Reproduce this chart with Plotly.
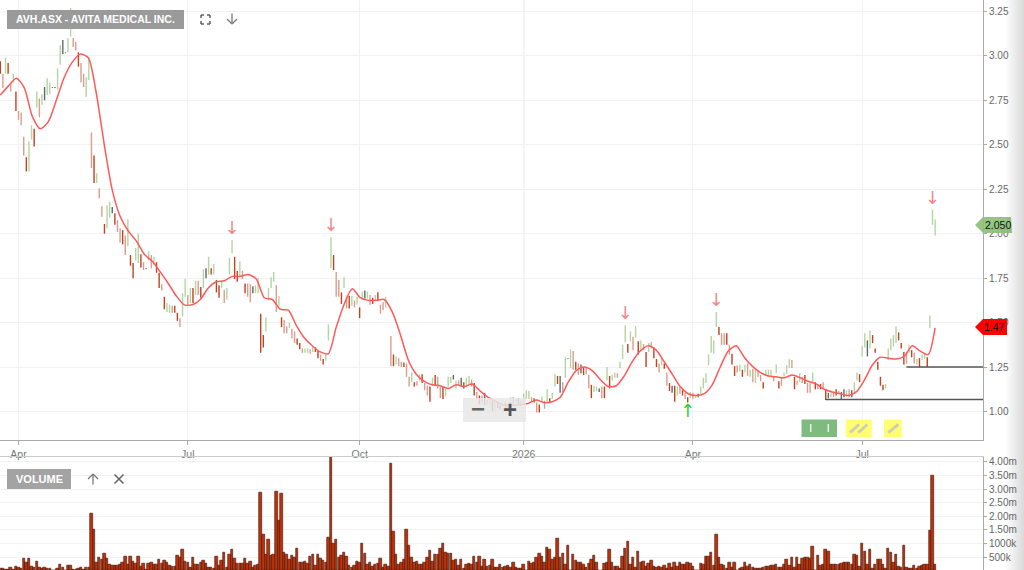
import plotly.graph_objects as go

W, H = 1024, 570

# one bar per trading day, oldest first (prices in AUD, volume in thousands)
highs = [
    2.97, 2.90, 2.99, 2.96, 2.85, 2.90, 2.80, 2.69, 2.68, 2.545,
    2.43, 2.52, 2.61, 2.59, 2.80, 2.76, 2.785, 2.825, 2.875, 2.85,
    2.825, 2.825, 2.93, 3.06, 3.09, 3.02, 3.10, 3.27, 3.10, 3.08,
    3.02, 2.96, 2.90, 2.88, 2.99, 2.57, 2.44, 2.34, 2.255, 2.155,
    2.055, 2.16, 2.18, 2.15, 2.115, 2.075, 2.03, 2.02, 1.99, 2.08,
    1.88, 1.835, 1.92, 2.00, 1.885, 1.84, 1.805, 1.90, 1.88, 1.87,
    1.84, 1.78, 1.715, 1.645, 1.61, 1.60, 1.595, 1.595, 1.555, 1.525,
    1.665, 1.745, 1.655, 1.695, 1.695, 1.735, 1.735, 1.70, 1.80, 1.805,
    1.87, 1.805, 1.83, 1.74, 1.71, 1.735, 1.685, 1.695, 1.865, 1.965,
    1.87, 1.79, 1.845, 1.79, 1.72, 1.72, 1.715, 1.705, 1.71, 1.75,
    1.55, 1.43, 1.53, 1.695, 1.755, 1.785, 1.71, 1.65, 1.53, 1.515,
    1.48, 1.50, 1.465, 1.45, 1.41, 1.385, 1.355, 1.355, 1.355, 1.35,
    1.365, 1.36, 1.34, 1.32, 1.295, 1.32, 1.49, 1.98, 1.88, 1.785,
    1.74, 1.67, 1.755, 1.645, 1.65, 1.65, 1.625, 1.645, 1.585, 1.675,
    1.68, 1.675, 1.655, 1.64, 1.655, 1.67, 1.60, 1.615, 1.645, None,
    1.425, 1.32, 1.31, 1.30, 1.28, 1.275, 1.27, 1.195, 1.22, 1.165,
    1.17, 1.21, 1.21, 1.16, 1.145, 1.14, 1.19, 1.205, 1.195, 1.14,
    1.14, 1.13, 1.195, 1.195, 1.205, 1.175, 1.175, 1.19, 1.165, 1.19,
    1.20, 1.18, 1.16, 1.11, 1.09, 1.09, 1.105, 1.065, 1.08, 1.06,
    1.05, 1.05, 1.035, 1.02, 1.055, 1.05, 1.08, 1.08, 1.075, 1.075,
    1.06, 1.10, 1.12, 1.115, 1.08, 1.075, 1.05, 1.04, 1.085, 1.06,
    1.125, 1.075, 1.105, 1.21, 1.20, 1.20, 1.165, 1.305, 1.30, 1.35,
    1.34, 1.28, 1.27, 1.265, 1.25, 1.25, 1.205, 1.15, 1.145, 1.14,
    1.13, 1.14, 1.14, 1.25, 1.20, 1.205, 1.22, 1.215, 1.28, 1.375,
    1.485, 1.38, 1.45, 1.42, 1.48, 1.395, 1.40, 1.38, 1.335, 1.385,
    1.39, 1.36, 1.295, 1.27, 1.305, 1.27, 1.22, 1.16, 1.145, 1.145,
    1.14, 1.14, 1.12, 1.105, 1.08, 1.11, 1.105, 1.09, 1.10, 1.14,
    1.19, 1.215, 1.32, 1.425, 1.40, 1.56, 1.475, 1.44, 1.44, 1.44,
    1.375, 1.325, 1.255, 1.26, 1.265, 1.235, 1.265, 1.27, 1.235, 1.24,
    1.235, 1.23, 1.205, 1.165, 1.235, 1.235, 1.235, 1.20, 1.265, 1.17,
    1.195, 1.22, 1.26, 1.295, 1.29, 1.195, 1.175, 1.215, 1.195, 1.205,
    1.16, 1.16, 1.22, 1.165, 1.155, 1.155, 1.165, 1.125, 1.105, 1.105,
    1.105, 1.125, 1.115, 1.11, 1.125, 1.12, 1.125, 1.12, 1.165, 1.22,
    1.21, 1.37, 1.44, 1.40, 1.455, 1.43, 1.355, 1.28, 1.195, 1.15,
    1.155, 1.355, 1.41, 1.43, 1.48, 1.445, 1.385, 1.335, 1.33, 1.375,
    1.345, 1.33, 1.295, 1.30, 1.32, 1.33, 1.305, 1.54, 2.135, 2.08,
]
lows = [
    2.90, 2.82, 2.90, 2.90, 2.80, 2.85, 2.69, 2.64, 2.61, 2.44,
    2.35, 2.35, 2.53, 2.49, 2.71, 2.655, 2.725, 2.75, 2.78, 2.785,
    2.82, 2.82, 2.81, 2.95, 3.01, 3.015, 3.02, 3.11, 3.05, 3.03,
    2.94, 2.85, 2.825, 2.77, 2.865, 2.37, 2.285, 2.285, 2.20, 2.095,
    2.00, 2.03, 2.09, 2.115, 2.05, 2.01, 1.95, 1.94, 1.88, 1.93,
    1.82, 1.75, 1.85, 1.835, 1.81, 1.795, 1.80, 1.85, 1.805, 1.825,
    1.78, 1.695, 1.68, 1.575, 1.56, 1.555, 1.555, 1.555, 1.51, 1.475,
    1.535, 1.645, 1.595, 1.61, 1.61, 1.655, 1.655, 1.64, 1.695, 1.75,
    1.77, 1.77, 1.77, 1.67, 1.64, 1.695, 1.61, 1.63, 1.77, 1.89,
    1.745, 1.73, 1.76, 1.745, 1.665, 1.645, 1.615, 1.665, 1.665, 1.665,
    1.33, 1.36, 1.45, 1.625, 1.695, 1.73, 1.56, 1.595, 1.475, 1.44,
    1.44, 1.47, 1.41, 1.385, 1.375, 1.35, 1.33, 1.33, 1.33, 1.325,
    1.335, 1.335, 1.30, 1.285, 1.265, 1.285, 1.40, 1.805, 1.795, 1.645,
    1.645, 1.605, 1.695, 1.58, 1.58, 1.595, 1.585, 1.60, 1.525, 1.63,
    1.635, 1.635, 1.60, 1.605, 1.625, 1.625, 1.55, 1.57, 1.585, None,
    1.255, 1.255, 1.265, 1.255, 1.25, 1.25, 1.195, 1.14, 1.165, 1.14,
    1.145, 1.17, 1.16, 1.12, 1.09, 1.055, 1.145, 1.145, 1.13, 1.075,
    1.07, 1.085, 1.14, 1.16, 1.18, 1.13, 1.15, 1.14, 1.13, 1.14,
    1.155, 1.14, 1.09, 1.07, 1.04, 1.05, 1.035, 1.04, 1.035, 1.00,
    1.00, 1.02, 1.01, 0.99, 1.00, 1.01, 1.035, 1.035, 1.05, 1.045,
    1.03, 1.04, 1.07, 1.07, 1.055, 1.05, 0.995, 0.995, 1.05, 1.015,
    1.05, 1.05, 1.07, 1.14, 1.155, 1.105, 1.11, 1.19, 1.295, 1.245,
    1.235, 1.235, 1.205, 1.215, 1.205, 1.21, 1.13, 1.075, 1.11, 1.115,
    1.11, 1.075, 1.075, 1.175, 1.13, 1.175, 1.19, 1.19, 1.245, 1.295,
    1.39, 1.33, 1.395, 1.345, 1.415, 1.32, 1.345, 1.345, 1.25, 1.335,
    1.355, 1.30, 1.25, 1.22, 1.26, 1.24, 1.145, 1.115, 1.105, 1.055,
    1.09, 1.10, 1.09, 1.07, 1.05, 1.075, 1.07, 1.075, 1.08, 1.10,
    1.13, 1.16, 1.26, 1.33, 1.325, 1.475, 1.43, 1.375, 1.375, 1.375,
    1.32, 1.265, 1.20, 1.22, 1.225, 1.195, 1.22, 1.20, 1.195, 1.165,
    1.16, 1.195, 1.17, 1.13, 1.20, 1.20, 1.20, 1.17, 1.215, 1.13,
    1.145, 1.195, 1.21, 1.245, 1.245, 1.125, 1.15, 1.165, 1.16, 1.155,
    1.105, 1.105, 1.165, 1.125, 1.125, 1.125, 1.13, 1.065, 1.075, 1.08,
    1.08, 1.09, 1.10, 1.065, 1.08, 1.08, 1.08, 1.08, 1.11, 1.175,
    1.165, 1.31, 1.36, 1.31, 1.355, 1.385, 1.33, 1.235, 1.145, 1.12,
    1.13, 1.29, 1.345, 1.365, 1.385, 1.40, 1.355, 1.265, 1.27, 1.33,
    1.305, 1.27, 1.265, 1.25, 1.29, 1.295, 1.25, 1.47, 2.05, 1.99,
]
# r = down strong, p = down pale, g = up pale, k = flat/grey
bar_kinds = "".join([
    "rpgrpgrppp", "rggrgpgkgg", "kkggkkggpp", "rppggprgpp", "rggkrpprpg", "rrggrpkgpg",
    "rrprggprrp", "ggpgrgprgk", "grgrrgpggg", "rrgprppkgg", "rrggggpgrp", "pgpprrpggp",
    "grrprgggrp", "prgprgpgrg", "kgprgrppgg", "prgpprppgr", "pgrpprgrpp", "rgggkgpkrg",
    "gprprpkpgr", "gkrgpggpgk", "ggggprprgp", "grggrkpgkg", "prpkrpprgg", "kprgrggpgg",
    "grgpgrgprg", "prrpgrprkr", "gprprgpgkg", "ggggggrppr", "prrpgrgpgp", "gpprgggpgr",
    "pgggprpgpr", "ppgrprprkg", "prpkkgpkgg", "rggkgrrrrr", "gggggrrrpg", "rpgrggrggg",
])

volumes = [
    60, 60, 40, 40, 100, 40, 150, 100, 90, 450,
    300, 430, 150, 100, 330, 100, 60, 100, 60, 60,
    15, 15, 60, 220, 100, 10, 200, 170, 50, 40,
    60, 120, 50, 100, 100, 2100, 1500, 300, 470, 390,
    640, 430, 220, 170, 180, 190, 240, 300, 510, 220,
    510, 340, 270, 510, 150, 250, 50, 270, 310, 220,
    220, 390, 270, 370, 310, 180, 150, 150, 560, 490,
    760, 340, 310, 120, 470, 220, 220, 310, 370, 270,
    120, 100, 60, 510, 180, 370, 670, 120, 610, 760,
    440, 270, 270, 270, 430, 270, 340, 120, 180, 220,
    2880, 1310, 610, 1160, 550, 590, 2920, 1860, 2850, 650,
    610, 390, 550, 470, 800, 310, 310, 340, 270, 510,
    610, 180, 590, 430, 370, 310, 1200, 4400, 980, 1160,
    490, 550, 670, 510, 180, 120, 180, 340, 310, 980,
    640, 220, 310, 150, 220, 270, 430, 120, 220, 150,
    3950, 1450, 590, 220, 310, 390, 1500, 940, 470, 310,
    340, 220, 240, 310, 490, 740, 340, 610, 610, 800,
    980, 670, 640, 640, 370, 390, 180, 390, 60, 220,
    270, 220, 510, 310, 510, 150, 390, 150, 180, 390,
    100, 100, 240, 100, 150, 180, 100, 280, 120, 60,
    60, 220, 20, 340, 270, 310, 470, 640, 510, 310,
    860, 760, 390, 470, 1190, 470, 640, 220, 940, 10,
    590, 370, 280, 280, 220, 120, 270, 390, 550, 290,
    20, 20, 270, 310, 760, 310, 150, 150, 60, 510,
    800, 1070, 220, 490, 100, 710, 310, 330, 150, 270,
    370, 150, 120, 150, 100, 180, 60, 270, 100, 310,
    150, 310, 220, 220, 310, 270, 150, 10, 10, 270,
    220, 510, 510, 670, 180, 1310, 470, 220, 180, 60,
    310, 120, 310, 20, 60, 100, 310, 150, 240, 120,
    60, 80, 80, 120, 150, 150, 180, 180, 220, 120,
    120, 220, 390, 200, 490, 100, 490, 240, 430, 470,
    470, 430, 880, 20, 570, 180, 240, 760, 710, 240,
    220, 240, 240, 270, 290, 310, 310, 220, 590, 550,
    150, 1000, 700, 220, 770, 60, 220, 390, 390, 240,
    60, 810, 670, 310, 590, 150, 100, 910, 120, 80,
    60, 180, 60, 150, 180, 220, 240, 1470, 3490, 220,
]

# moving average, read roughly every third bar
ma_values = [
    2.78, 2.83, 2.875, 2.82, 2.66, 2.59, 2.63, 2.75, 2.88, 2.965,
    3.01, 2.99, 2.79, 2.50, 2.245, 2.095, 2.015, 1.96, 1.885, 1.845,
    1.785, 1.72, 1.65, 1.60, 1.60, 1.63, 1.695, 1.73, 1.735, 1.76,
    1.76, 1.77, 1.745, 1.64, 1.63, 1.575, 1.57, 1.485, 1.415, 1.37,
    1.335, 1.325, 1.475, 1.605, 1.69, 1.64, 1.625, 1.625, 1.63, 1.56,
    1.435, 1.29, 1.21, 1.17, 1.15, 1.145, 1.13, 1.15, 1.14, 1.155,
    1.115, 1.08, 1.055, 1.035, 1.035, 1.04, 1.045, 1.065, 1.05, 1.055,
    1.08, 1.165, 1.23, 1.25, 1.23, 1.18, 1.14, 1.145, 1.20, 1.28,
    1.34, 1.37, 1.345, 1.28, 1.21, 1.14, 1.10, 1.09, 1.10, 1.15,
    1.25, 1.34, 1.37, 1.305, 1.255, 1.22, 1.20, 1.195, 1.19, 1.205,
    1.19, 1.17, 1.155, 1.125, 1.11, 1.10, 1.09, 1.11, 1.175, 1.26,
    1.305, 1.30, 1.295, 1.31, 1.37, 1.34, 1.32, 1.47,
]
ma_bars = [k * 3.072 for k in range(len(ma_values) - 1)] + [359]

price_ticks = [1.00, 1.25, 1.50, 1.75, 2.00, 2.25, 2.50, 2.75, 3.00, 3.25]
price_labels = ["1.00", "1.25", "1.50", "1.75", "2.00", "2.25", "2.50", "2.75", "3.00", "3.25"]
vol_ticks = [500, 1000, 1500, 2000, 2500, 3000, 3500, 4000]
vol_labels = ["500k", "1000k", "1.50m", "2.00m", "2.50m", "3.00m", "3.50m", "4.00m"]
month_bars = [7, 72, 138, 201, 266, 331]
month_labels = ["Apr", "Jul", "Oct", "2026", "Apr", "Jul"]

sell_bars = [89, 127, 240, 275, 358]
sell_prices = [2.026, 2.043, 1.543, 1.62, 2.19]
buy_bars = [264]
buy_prices = [0.997]

level_starts = [348, 317]
level_prices = [1.25, 1.067]

kind_colors = {"r": "#c2411f", "p": "#dc9c8e", "g": "#b2d6a0", "k": "#62676e"}
X_END = 377.4
bars = list(range(len(highs)))
assert len(highs) == len(lows) == len(volumes) == len(bar_kinds) == 360


def px(x):
    return x / W


def py(y):
    return 1 - y / H


def box(x0, y0, x1, y1, color):
    return dict(type="rect", xref="paper", yref="paper", x0=px(x0), x1=px(x1), y0=py(y0), y1=py(y1),
                fillcolor=color, line_width=0, layer="above")


def seg(x0, y0, x1, y1, color, width):
    return dict(type="line", xref="paper", yref="paper", x0=px(x0), x1=px(x1), y0=py(y0), y1=py(y1),
                line=dict(color=color, width=width), layer="above")


def poly(points, color):
    path = "M " + " L ".join(f"{px(a):.5f},{py(b):.5f}" for a, b in points) + " Z"
    return dict(type="path", xref="paper", yref="paper", path=path, fillcolor=color, line_width=0, layer="above")


def arrow_icon(x, top, bottom, down=True):
    tip, back = (bottom, bottom - 5) if down else (top, top + 5)
    return [seg(x, top, x, bottom, "#777777", 1.3),
            seg(x - 5, back, x, tip, "#777777", 1.3),
            seg(x + 5, back, x, tip, "#777777", 1.3)]


def label(x, y, text, size, color, bold=False, font="Liberation Sans"):
    if bold:
        text = f"<b>{text}</b>"
    return dict(xref="paper", yref="paper", x=px(x), y=py(y), text=text, showarrow=False,
                font=dict(size=size, color=color, family=font), xanchor="center", yanchor="middle")


fig = go.Figure()

# range bars, one trace per colour
for kind, color in kind_colors.items():
    xs, ys = [], []
    for b, hi, lo, k in zip(bars, highs, lows, bar_kinds):
        if k == kind and hi is not None:
            xs += [b, b, None]
            ys += [lo, hi, None]
    fig.add_trace(go.Scatter(x=xs, y=ys, mode="lines", line=dict(color=color, width=1.4),
                             hoverinfo="skip", xaxis="x", yaxis="y"))

fig.add_trace(go.Scatter(x=ma_bars, y=ma_values, mode="lines", xaxis="x", yaxis="y",
                         line=dict(color="#ff5a5a", width=1.5, shape="spline", smoothing=0.7)))

for start, level in zip(level_starts, level_prices):
    fig.add_trace(go.Scatter(x=[start, X_END], y=[level, level], mode="lines", xaxis="x", yaxis="y",
                             line=dict(color="#555555", width=1.5)))

fig.add_trace(go.Scatter(x=sell_bars, y=sell_prices, mode="text", text=["↓"] * len(sell_bars),
                         xaxis="x", yaxis="y", textfont=dict(size=18, color="#f08a8a", family="DejaVu Sans")))
fig.add_trace(go.Scatter(x=buy_bars, y=buy_prices, mode="text", text=["↑"] * len(buy_bars),
                         xaxis="x", yaxis="y", textfont=dict(size=18, color="#2fd02f", family="DejaVu Sans")))

fig.add_trace(go.Bar(x=bars, y=volumes, xaxis="x2", yaxis="y2", width=0.95,
                     marker=dict(color="#c2320a", line=dict(color="#33160e", width=0.6))))

shapes = [
    dict(type="line", xref="x", yref="paper", x0=201, x1=201, y0=py(440), y1=1,
         line=dict(color="#d0d0d0", width=1), layer="below"),
    # title and volume captions
    box(7, 10, 184, 29, "#9a9a9a"),
    box(7, 469, 71, 489, "#a3a3a3"),
    # zoom panel
    box(463, 398, 526, 422, "rgba(232,232,232,0.85)"),
    # green note box and its marks
    box(801.5, 419.5, 837, 437, "#7fbb7f"),
    seg(810.7, 424, 810.7, 432, "#e8f2e8", 1.5),
    seg(828.3, 424, 828.3, 432, "#e8f2e8", 1.5),
    # yellow note boxes with pencils
    box(845.7, 419.5, 871.7, 437, "#ffff70"),
    box(884, 419.5, 901.7, 437, "#ffff70"),
    seg(850, 432.7, 859, 424.5, "#cfcfb4", 3),
    seg(858.3, 432.7, 867.3, 424.5, "#cfcfb4", 3),
    seg(888.3, 432.7, 898.3, 424.5, "#cfcfb4", 3),
    # last price tags
    poly([(975, 225), (983, 217), (1011, 217), (1012, 233), (983, 233)], "rgba(141,191,120,0.92)"),
    poly([(975, 327), (983, 319), (1007, 319), (1007, 335), (983, 335)], "#ff0000"),
    # fullscreen icon corners
    seg(201, 15, 204, 15, "#555555", 1.4), seg(201, 15, 201, 18, "#555555", 1.4),
    seg(207, 15, 210, 15, "#555555", 1.4), seg(210, 15, 210, 18, "#555555", 1.4),
    seg(201, 24, 204, 24, "#555555", 1.4), seg(201, 21, 201, 24, "#555555", 1.4),
    seg(207, 24, 210, 24, "#555555", 1.4), seg(210, 21, 210, 24, "#555555", 1.4),
    # close cross next to the volume caption
    seg(114.5, 474.5, 123.5, 483.5, "#666666", 1.6), seg(114.5, 483.5, 123.5, 474.5, "#666666", 1.6),
]
shapes += arrow_icon(232, 13.5, 24) + arrow_icon(93, 474, 484.5, down=False)
# soft shadow down the right edge of the page
for n in range(12):
    shapes.append(box(1006 + n * 1.5, 0, 1024, 570, "rgba(120,120,120,0.022)"))

annotations = [
    label(95, 19.5, "AVH.ASX - AVITA MEDICAL INC.", 10.5, "#ffffff", bold=True),
    label(39, 479, "VOLUME", 11, "#ffffff", bold=True),
    label(478, 408, "−", 24, "#666666", bold=True),
    label(510, 409, "+", 24, "#555555", bold=True),
    label(997.5, 225, "2.050", 10.5, "#111111"),
    label(994.5, 327, "1.47", 10.5, "#111111"),
]

fig.update_layout(
    width=W, height=H, autosize=False,
    margin=dict(l=0, r=0, t=0, b=0),
    paper_bgcolor="white", plot_bgcolor="white",
    showlegend=False, bargap=0,
    font=dict(family="Liberation Sans", size=10.5, color="#666666"),
    shapes=shapes, annotations=annotations,
    xaxis=dict(domain=[0, 983 / W], range=[-0.115, X_END], anchor="y",
               tickmode="array", tickvals=month_bars, ticktext=month_labels,
               ticks="outside", ticklen=4, tickcolor="#aaaaaa", showline=True, linecolor="#aaaaaa",
               showgrid=True, gridcolor="#f2f2f2", zeroline=False, tickfont=dict(size=10.5, color="#777777")),
    yaxis=dict(domain=[1 - 440 / H, 1], range=[0.8397, 3.3144], side="right", anchor="x",
               tickmode="array", tickvals=price_ticks, ticktext=price_labels,
               ticks="outside", ticklen=3, tickcolor="#aaaaaa", showline=True, linecolor="#aaaaaa",
               showgrid=True, gridcolor="#f2f2f2", zeroline=False, tickfont=dict(size=10, color="#666666")),
    xaxis2=dict(domain=[0, 983 / W], range=[-0.115, X_END], anchor="y2", side="top",
                showticklabels=False, ticks="", showline=True, linecolor="#cccccc",
                showgrid=False, zeroline=False),
    yaxis2=dict(domain=[0, 1 - 456.5 / H], range=[22, 4195], side="right", anchor="x2",
                tickmode="array", tickvals=vol_ticks, ticktext=vol_labels,
                ticks="outside", ticklen=3, tickcolor="#aaaaaa", showline=True, linecolor="#aaaaaa",
                showgrid=True, gridcolor="#f2f2f2", zeroline=False, tickfont=dict(size=10, color="#666666")),
)

fig.write_html("out.html", config=dict(displayModeBar=False),
               post_script="document.body.style.margin='0';")
